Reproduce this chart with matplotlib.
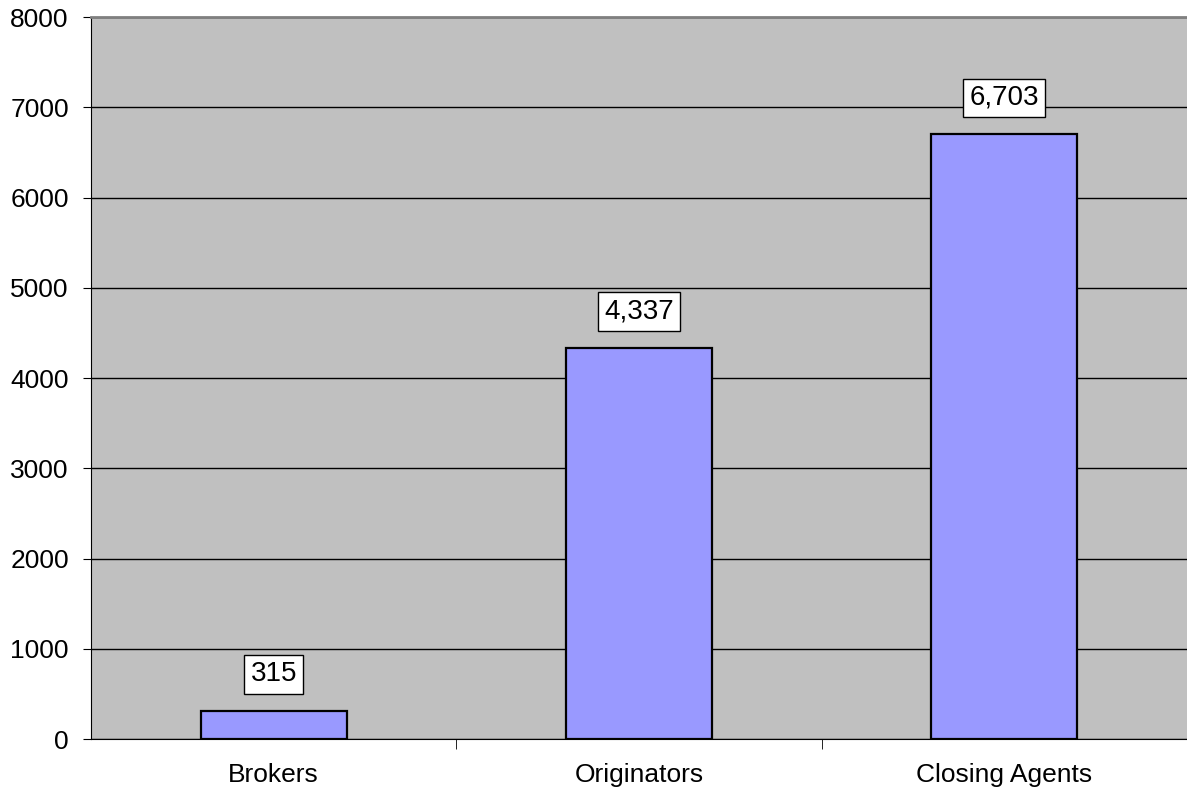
import matplotlib
matplotlib.use("Agg")
import matplotlib.pyplot as plt

plt.rcParams['font.family'] = ['Liberation Sans', 'DejaVu Sans']

categories = ["Brokers", "Originators", "Closing Agents"]
values = [315, 4337, 6703]
yticks = [0, 1000, 2000, 3000, 4000, 5000, 6000, 7000, 8000]

fig = plt.figure(figsize=(11.87, 7.91), dpi=100)
ax = fig.add_axes([0.0767, 0.0657, 0.9233, 0.9128])
ax.set_facecolor("#C0C0C0")

x = range(len(categories))
ax.bar(x, values, width=0.4, color="#9999FF", edgecolor="black", linewidth=1.6, zorder=3)

for xi, v in zip(x, values):
    ax.annotate(f"{v:,}", (xi, v), xytext=(0, 26), textcoords="offset points",
                ha="center", va="center", fontsize=20, zorder=4,
                bbox=dict(boxstyle="square,pad=0.22", facecolor="white", edgecolor="black", linewidth=1))

ax.set_ylim(0, 8000)
ax.set_xlim(-0.5, 2.5)
ax.set_yticks(yticks)
ax.yaxis.grid(True, color="black", linewidth=1, zorder=1)
ax.set_xticks(x)
ax.set_xticklabels(categories, fontsize=19)
ax.tick_params(axis="x", length=0, pad=17)
ax.tick_params(axis="y", labelsize=19, length=6, direction="out", pad=10)
ax.set_xticks([0.5, 1.5], minor=True)
ax.tick_params(axis="x", which="minor", length=7, direction="out")

ax.spines["left"].set_color("black")
ax.spines["bottom"].set_color("black")
ax.spines["top"].set_color("#808080")
ax.spines["top"].set_linewidth(2)
ax.spines["right"].set_visible(False)

fig.savefig("out.png", dpi=100)
